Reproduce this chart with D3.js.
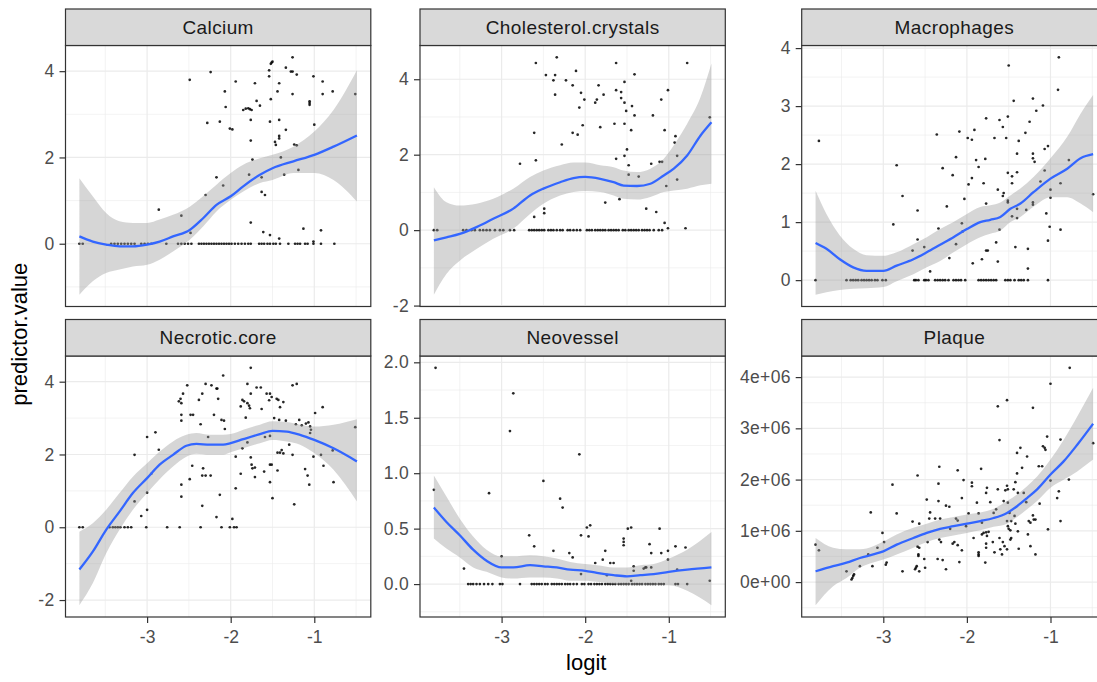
<!DOCTYPE html>
<html><head><meta charset="utf-8">
<script src="https://cdn.jsdelivr.net/npm/d3@7"></script>
<style>body{margin:0;background:#fff;overflow:hidden} text{font-family:"Liberation Sans",Arial,sans-serif}</style>
</head><body><svg id="c" width="1097" height="682"></svg>
<script>
// ---------------- DATA ----------------
const facetNames = ["Calcium","Cholesterol.crystals","Macrophages","Necrotic.core","Neovessel","Plaque"];
const xTicks = [-3,-2,-1];

const calciumPoints = [[-1.26,4.32],[-1.51,4.20],[-1.50,4.22],[-1.52,4.17],[-1.34,4.08],[-1.54,4.02],[-1.28,3.99],[-1.26,3.99],[-2.24,3.98],[-1.21,3.92],[-1.54,3.88],[-1.01,3.88],[-2.49,3.80],[-0.90,3.76],[-1.94,3.76],[-1.71,3.72],[-1.42,3.72],[-1.44,3.53],[-2.07,3.53],[-1.26,3.47],[-0.90,3.47],[-0.78,3.53],[-0.51,3.47],[-1.52,3.35],[-1.69,3.31],[-1.65,3.20],[-1.056,3.30],[-1.056,3.26],[-1.056,3.22],[-2.06,3.17],[-1.85,3.10],[-1.82,3.13],[-1.79,3.14],[-1.77,3.12],[-1.75,3.10],[-2.28,2.80],[-2.13,2.83],[-1.76,2.87],[-1.53,2.83],[-1.42,2.87],[-2.01,2.67],[-1.98,2.65],[-1.34,2.64],[-1.00,2.76],[-1.42,2.50],[-1.42,2.44],[-1.47,2.36],[-1.46,2.29],[-1.76,2.39],[-1.24,2.30],[-1.21,2.28],[-1.40,2.00],[-1.74,1.95],[-2.17,1.54],[-2.09,1.35],[-1.78,1.60],[-1.63,1.54],[-1.36,1.60],[-1.19,1.71],[-2.30,1.13],[-1.63,1.20],[-1.59,1.13],[-2.86,0.79],[-2.59,0.65],[-2.48,0.25],[-1.76,0.49],[-1.61,0.27],[-1.53,0.20],[-1.42,0.12],[-1.13,0.35],[-0.92,0.31],[-1.01,0.05]];
const calciumZeros = [-3.81,-3.77,-3.43,-3.39,-3.35,-3.31,-3.27,-3.23,-3.19,-3.15,-3.07,-3.03,-2.99,-2.95,-2.77,-2.63,-2.59,-2.55,-2.51,-2.47,-2.38,-2.35,-2.32,-2.29,-2.26,-2.23,-2.20,-2.17,-2.14,-2.11,-2.08,-2.05,-2.02,-1.99,-1.95,-1.91,-1.87,-1.83,-1.79,-1.76,-1.66,-1.63,-1.60,-1.56,-1.53,-1.49,-1.46,-1.41,-1.31,-1.23,-1.20,-1.17,-1.11,-1.08,-1.01,-0.92,-0.76];
const calciumSmoothX = [-3.81,-3.65,-3.49,-3.33,-3.17,-3.0,-2.85,-2.69,-2.49,-2.33,-2.17,-2.0,-1.85,-1.65,-1.5,-1.25,-1.0,-0.77,-0.49];
const calciumFit = [0.17,0.05,-0.02,-0.06,-0.06,-0.02,0.05,0.17,0.32,0.59,0.90,1.10,1.33,1.60,1.75,1.91,2.06,2.25,2.51];
const calciumHi  = [1.52,1.10,0.71,0.52,0.48,0.48,0.56,0.67,0.86,1.10,1.37,1.64,1.83,1.98,2.06,2.25,2.60,3.10,4.02];
const calciumLo  = [-1.18,-0.87,-0.68,-0.60,-0.53,-0.49,-0.37,-0.18,0.09,0.40,0.75,1.02,1.21,1.41,1.48,1.64,1.64,1.48,0.98];
const calciumTicks = [0,2,4];

const cholPoints = [[-2.59,4.43],[-2.34,4.58],[-1.63,4.43],[-0.78,4.43],[-2.47,4.11],[-2.36,4.11],[-2.38,3.97],[-2.23,3.97],[-2.11,4.22],[-1.41,4.13],[-2.15,3.84],[-1.84,3.84],[-1.53,3.93],[-1.63,3.71],[-1.57,3.66],[-1.01,3.71],[-2.36,3.59],[-2.05,3.64],[-1.78,3.59],[-2.01,3.46],[-1.86,3.46],[-1.88,3.38],[-1.57,3.50],[-1.53,3.38],[-1.09,3.46],[-2.07,3.25],[-1.51,3.16],[-1.44,3.29],[-1.41,3.04],[-1.19,3.04],[-2.61,2.58],[-2.15,2.58],[-2.09,2.53],[-2.03,2.78],[-1.82,2.73],[-1.65,2.82],[-1.53,2.82],[-1.45,2.65],[-1.05,2.65],[-0.92,2.49],[-0.93,2.32],[-2.28,2.27],[-1.50,2.14],[-1.53,1.97],[-1.63,1.89],[-0.90,1.97],[-2.78,1.76],[-2.59,1.85],[-1.48,1.72],[-1.21,1.76],[-1.11,1.81],[-1.08,1.81],[-1.48,1.47],[-1.36,1.42],[-0.90,1.34],[-1.03,1.17],[-0.51,2.99],[-1.76,0.73],[-1.59,0.82],[-1.27,0.57],[-1.15,0.48],[-2.49,0.57],[-2.49,0.45],[-2.61,0.35],[-1.05,0.19],[-1.01,0.05],[-0.80,0.05]];
const cholZeros = [-3.81,-3.77,-3.46,-3.42,-3.36,-3.32,-3.26,-3.22,-3.18,-3.14,-3.08,-3.02,-2.98,-2.90,-2.85,-2.67,-2.64,-2.61,-2.58,-2.55,-2.52,-2.49,-2.44,-2.41,-2.38,-2.34,-2.30,-2.27,-2.21,-2.18,-2.14,-2.10,-2.06,-1.98,-1.95,-1.92,-1.88,-1.85,-1.82,-1.79,-1.76,-1.72,-1.69,-1.66,-1.63,-1.60,-1.55,-1.52,-1.48,-1.45,-1.42,-1.39,-1.36,-1.32,-1.29,-1.26,-1.23,-1.18,-1.12,-1.08];
const cholSmoothX = [-3.81,-3.66,-3.5,-3.3,-3.1,-2.86,-2.66,-2.5,-2.3,-2.14,-2.0,-1.82,-1.66,-1.54,-1.38,-1.22,-1.06,-0.94,-0.78,-0.62,-0.49];
const cholFit = [-0.27,-0.19,-0.10,0.08,0.30,0.57,0.92,1.10,1.27,1.38,1.41,1.36,1.27,1.18,1.17,1.23,1.45,1.63,1.98,2.51,2.86];
const cholHi  = [1.14,0.74,0.65,0.70,0.83,1.10,1.41,1.58,1.72,1.79,1.79,1.72,1.67,1.58,1.54,1.63,1.89,2.25,2.82,3.53,4.42];
const cholLo  = [-1.71,-1.16,-0.81,-0.50,-0.23,0.04,0.43,0.70,0.92,1.01,1.04,1.01,0.92,0.83,0.81,0.88,1.01,1.05,1.10,1.19,1.23];
const cholTicks = [-2,0,2,4];

const macroPoints = [[-3.77,2.40],[-2.84,1.98],[-2.77,1.45],[-2.88,0.96],[-2.59,1.20],[-2.59,0.70],[-2.65,0.51],[-2.51,0.57],[-2.44,0.15],[-2.36,2.51],[-2.34,0.89],[-2.29,1.93],[-2.24,1.27],[-2.21,0.38],[-2.17,1.81],[-2.13,2.12],[-2.13,0.62],[-2.09,2.56],[-2.06,0.98],[-2.05,0.84],[-2.03,1.40],[-1.99,2.45],[-1.94,2.42],[-1.98,1.65],[-1.94,1.76],[-1.91,2.59],[-1.89,2.07],[-1.86,1.95],[-1.80,1.67],[-1.78,2.09],[-1.77,2.79],[-1.77,1.32],[-1.77,0.51],[-1.75,0.51],[-1.82,0.36],[-1.93,0.29],[-1.65,0.65],[-1.63,0.32],[-1.61,0.87],[-1.63,1.56],[-1.61,2.76],[-1.57,2.64],[-1.67,2.45],[-1.56,1.50],[-1.57,1.45],[-1.53,2.45],[-1.51,2.82],[-1.51,1.85],[-1.51,1.37],[-1.51,1.34],[-1.50,3.70],[-1.46,1.67],[-1.46,1.79],[-1.46,1.10],[-1.44,3.09],[-1.42,0.57],[-1.40,1.07],[-1.40,1.86],[-1.40,2.18],[-1.38,2.40],[-1.40,1.23],[-1.30,2.54],[-1.29,1.21],[-1.27,0.54],[-1.27,0.20],[-1.25,2.73],[-1.21,3.13],[-1.21,2.18],[-1.21,2.10],[-1.19,2.04],[-1.21,1.34],[-1.21,1.30],[-1.17,2.92],[-1.12,1.70],[-1.09,3.01],[-1.07,1.89],[-1.07,2.26],[-1.03,2.31],[-1.05,1.15],[-1.01,0.92],[-1.03,0.68],[-1.00,1.56],[-1.00,1.42],[-0.91,3.28],[-0.90,3.84],[-0.88,1.67],[-0.88,0.87],[-0.78,2.07],[-0.49,1.48]];
const macroZeros = [-3.81,-3.44,-3.39,-3.36,-3.33,-3.30,-3.26,-3.23,-3.20,-3.17,-3.14,-3.10,-3.07,-3.01,-2.97,-2.63,-2.61,-2.58,-2.51,-2.49,-2.46,-2.38,-2.35,-2.32,-2.29,-2.26,-2.22,-2.16,-2.13,-2.10,-2.07,-2.02,-1.86,-1.83,-1.80,-1.77,-1.74,-1.71,-1.68,-1.65,-1.54,-1.51,-1.48,-1.43,-1.38,-1.35,-1.32,-1.27,-1.03];
const macroSmoothX = [-3.81,-3.68,-3.52,-3.36,-3.2,-3.0,-2.84,-2.64,-2.48,-2.32,-2.16,-2.0,-1.84,-1.72,-1.6,-1.48,-1.36,-1.2,-1.0,-0.8,-0.64,-0.49];
const macroFit = [0.64,0.54,0.36,0.22,0.16,0.16,0.25,0.36,0.48,0.61,0.74,0.88,1.00,1.04,1.09,1.23,1.32,1.52,1.75,1.92,2.10,2.17];
const macroHi  = [1.54,1.14,0.77,0.54,0.43,0.42,0.48,0.62,0.74,0.88,1.00,1.14,1.26,1.29,1.34,1.46,1.58,1.78,2.10,2.47,2.87,3.19];
const macroLo  = [-0.25,-0.21,-0.17,-0.15,-0.14,-0.12,-0.02,0.10,0.22,0.33,0.48,0.62,0.74,0.80,0.85,1.00,1.09,1.27,1.43,1.43,1.32,1.17];
const macroTicks = [0,1,2,3,4];

const necroticPoints = [[-1.76,4.38],[-2.09,4.17],[-2.52,3.90],[-2.30,3.94],[-2.23,3.90],[-2.17,3.81],[-2.16,3.81],[-1.80,3.94],[-1.69,3.84],[-1.64,3.84],[-1.26,3.90],[-1.21,3.94],[-2.57,3.67],[-2.60,3.53],[-2.62,3.46],[-2.59,3.41],[-2.34,3.67],[-2.38,3.50],[-2.15,3.53],[-1.86,3.50],[-1.84,3.46],[-1.80,3.41],[-1.78,3.34],[-1.77,3.27],[-1.88,3.32],[-1.76,3.67],[-1.57,3.67],[-1.53,3.67],[-1.51,3.58],[-1.54,3.49],[-1.45,3.53],[-1.43,3.50],[-1.37,3.44],[-1.41,3.30],[-1.63,3.25],[-0.99,3.14],[-0.90,3.30],[-2.59,3.09],[-2.48,3.09],[-2.45,3.09],[-2.20,3.09],[-1.82,3.01],[-1.48,3.00],[-1.42,2.95],[-1.34,2.93],[-1.18,2.95],[-2.59,2.93],[-2.36,2.83],[-2.11,2.95],[-2.08,2.93],[-2.07,2.70],[-1.22,2.83],[-1.15,2.80],[-1.10,2.85],[-1.07,2.88],[-1.05,2.77],[-1.04,2.68],[-1.05,2.59],[-3.00,2.48],[-2.90,2.61],[-2.86,2.13],[-3.15,1.99],[-2.27,2.48],[-1.86,2.17],[-1.80,2.33],[-1.59,2.48],[-1.53,2.51],[-1.41,2.05],[-1.44,2.05],[-1.39,2.12],[-1.37,2.03],[-1.30,2.27],[-1.26,1.99],[-1.01,1.94],[-0.92,1.99],[-0.78,2.11],[-0.51,2.75],[-1.94,1.94],[-1.76,1.92],[-2.46,1.69],[-2.33,1.62],[-1.75,1.72],[-1.74,1.62],[-1.71,1.64],[-1.53,1.72],[-1.51,1.72],[-1.44,1.56],[-1.60,1.53],[-1.11,1.60],[-0.89,1.69],[-2.49,1.32],[-2.34,1.42],[-2.30,1.42],[-2.24,1.42],[-1.88,1.47],[-1.71,1.38],[-1.53,1.24],[-1.08,1.42],[-1.06,1.17],[-0.77,1.24],[-2.59,1.17],[-2.59,0.84],[-1.94,1.07],[-2.13,0.89],[-1.50,0.80],[-1.24,0.63],[-3.00,0.95],[-3.00,0.48],[-3.15,0.71],[-3.07,0.31],[-2.34,0.59],[-2.17,0.28],[-1.98,0.23],[-2.95,1.47]];
const necroticZeros = [-3.81,-3.77,-3.45,-3.41,-3.38,-3.35,-3.32,-3.27,-3.23,-3.19,-3.01,-2.76,-2.61,-2.36,-2.11,-2.01,-1.96,-1.93];
const necroticSmoothX = [-3.81,-3.65,-3.49,-3.33,-3.17,-3.0,-2.85,-2.69,-2.53,-2.41,-2.25,-2.09,-2.0,-1.85,-1.65,-1.5,-1.33,-1.17,-1.0,-0.77,-0.49];
const necroticFit = [-1.16,-0.67,-0.07,0.43,0.94,1.35,1.72,1.99,2.24,2.29,2.27,2.27,2.31,2.42,2.56,2.65,2.63,2.54,2.40,2.17,1.81];
const necroticHi  = [-0.12,0.11,0.48,0.94,1.39,1.76,2.08,2.36,2.54,2.59,2.54,2.54,2.56,2.68,2.82,2.91,2.89,2.82,2.77,2.82,2.97];
const necroticLo  = [-2.14,-1.54,-0.72,-0.07,0.48,0.94,1.32,1.67,1.94,2.02,1.99,1.99,2.06,2.17,2.31,2.40,2.36,2.27,2.04,1.58,0.71];
const necroticTicks = [-2,0,2,4];

const neoPoints = [[-3.79,1.95],[-3.81,0.85],[-3.15,0.82],[-2.86,1.72],[-2.90,1.38],[-2.50,0.93],[-2.30,0.77],[-2.27,0.69],[-2.07,1.17],[-2.67,0.44],[-2.61,0.34],[-2.38,0.30],[-2.19,0.28],[-2.15,0.24],[-2.05,0.44],[-1.98,0.51],[-1.94,0.53],[-1.96,0.43],[-1.88,0.19],[-1.79,0.22],[-1.76,0.30],[-1.70,0.19],[-1.66,0.19],[-1.74,0.08],[-1.49,0.50],[-1.45,0.51],[-1.54,0.41],[-1.54,0.38],[-1.54,0.35],[-1.42,0.16],[-1.42,0.12],[-1.30,0.14],[-1.28,0.15],[-1.27,0.15],[-1.23,0.36],[-1.21,0.28],[-1.21,0.15],[-1.11,0.50],[-1.09,0.28],[-1.01,0.30],[-1.01,0.22],[-0.92,0.34],[-0.90,0.13],[-0.80,0.33],[-0.51,0.03],[-3.45,0.14],[-3.00,0.25],[-2.05,0.09],[-1.45,0.03]];
const neoZeros = [-3.40,-3.37,-3.34,-3.30,-3.26,-3.21,-3.16,-3.11,-3.02,-2.99,-2.78,-2.64,-2.61,-2.58,-2.55,-2.52,-2.48,-2.45,-2.40,-2.37,-2.34,-2.31,-2.28,-2.24,-2.21,-2.18,-2.14,-2.10,-2.04,-2.01,-1.96,-1.93,-1.89,-1.86,-1.83,-1.80,-1.76,-1.73,-1.70,-1.67,-1.64,-1.60,-1.57,-1.54,-1.51,-1.48,-1.44,-1.41,-1.38,-1.35,-1.32,-1.28,-1.25,-1.22,-1.19,-1.16,-1.12,-1.09,-1.06,-0.92,-0.89,-0.78];
const neoSmoothX = [-3.81,-3.66,-3.5,-3.34,-3.18,-3.0,-2.86,-2.66,-2.5,-2.34,-2.18,-2.0,-1.86,-1.66,-1.5,-1.34,-1.18,-1.0,-0.78,-0.49];
const neoFit = [0.69,0.56,0.44,0.31,0.21,0.15,0.15,0.17,0.16,0.15,0.13,0.12,0.10,0.08,0.07,0.08,0.09,0.11,0.13,0.15];
const neoHi  = [0.98,0.79,0.59,0.43,0.31,0.25,0.25,0.26,0.25,0.23,0.20,0.18,0.17,0.15,0.15,0.17,0.18,0.23,0.31,0.47];
const neoLo  = [0.41,0.32,0.24,0.15,0.11,0.06,0.05,0.06,0.06,0.05,0.03,0.03,0.02,0.00,-0.01,-0.01,-0.01,-0.01,-0.06,-0.19];
const neoTicks = [0,0.5,1,1.5,2];

// Plaque values in millions (×1e6)
const plaquePointsM = [[-3.81,0.73],[-3.77,0.62],[-3.44,0.21],[-3.38,0.05],[-3.37,0.08],[-3.36,0.12],[-3.35,0.15],[-3.28,0.31],[-3.18,0.54],[-3.15,1.36],[-3.13,0.31],[-3.07,0.67],[-3.01,0.96],[-2.99,0.78],[-2.97,0.34],[-2.96,0.38],[-2.89,1.90],[-2.84,1.34],[-2.77,0.21],[-2.65,1.18],[-2.62,0.25],[-2.61,0.28],[-2.60,0.31],[-2.59,2.08],[-2.59,0.69],[-2.58,0.54],[-2.58,0.51],[-2.57,0.21],[-2.57,1.14],[-2.57,0.67],[-2.51,0.45],[-2.50,0.28],[-2.48,1.61],[-2.47,0.78],[-2.44,1.36],[-2.45,1.24],[-2.38,1.24],[-2.35,0.45],[-2.34,1.92],[-2.34,1.58],[-2.33,2.25],[-2.33,0.83],[-2.31,0.78],[-2.32,1.24],[-2.29,0.43],[-2.25,0.25],[-2.25,1.49],[-2.21,1.47],[-2.20,1.04],[-2.17,0.75],[-2.15,0.78],[-2.13,1.24],[-2.11,1.20],[-2.11,2.18],[-2.11,0.72],[-2.09,0.39],[-2.06,1.64],[-2.06,0.62],[-2.04,1.99],[-2.01,1.09],[-1.98,1.34],[-1.94,1.94],[-1.94,1.87],[-1.92,0.86],[-1.88,1.55],[-1.86,1.34],[-1.86,0.58],[-1.86,0.54],[-1.86,0.51],[-1.83,2.21],[-1.82,0.93],[-1.80,0.96],[-1.77,0.97],[-1.74,0.98],[-1.76,0.90],[-1.82,1.16],[-1.78,0.38],[-1.77,1.74],[-1.76,1.84],[-1.77,0.67],[-1.77,0.75],[-1.72,1.56],[-1.69,0.78],[-1.68,1.35],[-1.67,0.58],[-1.65,1.42],[-1.63,1.81],[-1.63,3.43],[-1.61,2.77],[-1.61,0.86],[-1.60,0.64],[-1.58,0.54],[-1.57,0.78],[-1.56,1.58],[-1.55,0.70],[-1.52,0.64],[-1.54,1.79],[-1.52,3.55],[-1.52,1.19],[-1.51,1.09],[-1.50,1.04],[-1.48,1.01],[-1.52,1.88],[-1.51,1.81],[-1.51,1.55],[-1.49,1.35],[-1.48,0.83],[-1.47,0.86],[-1.47,1.19],[-1.44,1.81],[-1.43,1.29],[-1.42,1.14],[-1.42,1.95],[-1.40,2.12],[-1.40,2.52],[-1.39,1.74],[-1.39,0.99],[-1.38,0.65],[-1.36,2.62],[-1.34,2.23],[-1.32,1.74],[-1.29,1.56],[-1.28,2.45],[-1.27,0.93],[-1.26,1.19],[-1.24,1.16],[-1.24,0.70],[-1.21,3.40],[-1.21,1.30],[-1.20,1.22],[-1.18,1.22],[-1.18,0.54],[-1.14,2.26],[-1.13,1.53],[-1.10,2.26],[-1.09,2.65],[-1.07,2.62],[-1.06,2.58],[-1.04,2.84],[-1.03,1.03],[-1.00,3.87],[-1.00,1.98],[-0.92,1.64],[-0.90,1.77],[-0.88,2.78],[-0.88,1.19],[-0.78,2.00],[-0.77,4.18],[-0.49,2.71]];
const plaqueZeros = [];
const plaqueSmoothX = [-3.81,-3.6,-3.44,-3.28,-3.12,-3.0,-2.84,-2.64,-2.48,-2.32,-2.16,-2.0,-1.84,-1.68,-1.52,-1.4,-1.28,-1.16,-1.0,-0.84,-0.68,-0.49];
const plaqueFitM = [0.21,0.31,0.38,0.47,0.54,0.60,0.73,0.86,0.96,1.04,1.09,1.14,1.19,1.25,1.35,1.48,1.64,1.81,2.10,2.36,2.68,3.09];
const plaqueHiM  = [0.86,0.67,0.64,0.64,0.70,0.79,0.93,1.06,1.14,1.22,1.27,1.32,1.36,1.43,1.58,1.71,1.87,2.06,2.39,2.78,3.23,3.79];
const plaqueLoM  = [-0.45,-0.08,0.08,0.28,0.38,0.44,0.54,0.67,0.78,0.86,0.91,0.96,1.01,1.08,1.14,1.27,1.42,1.58,1.84,2.00,2.16,2.39];
const plaqueTicks = [0,1e6,2e6,3e6,4e6];

// ---------------- LAYOUT ----------------
const colLeft = [65.5, 420, 801.7];
const panelW = 305.3;
const stripTop = [9, 319.5];
const stripH = 36.5;
const panelH = 261;

const intFmt = v => String(v);
const dec1Fmt = v => v.toFixed(1);
const sciFmt = v => {
  if (v === 0) return "0e+00";
  const e = Math.floor(Math.log10(Math.abs(v)) + 1e-9);
  const m = Math.round(v / Math.pow(10, e) * 100) / 100;
  return m + "e+" + String(e).padStart(2, "0");
};
const M = 1e6;
const panels = [
  {pts: calciumPoints, zeros: calciumZeros, sx: calciumSmoothX, fit: calciumFit, hi: calciumHi, lo: calciumLo, ticks: calciumTicks, fmt: intFmt},
  {pts: cholPoints, zeros: cholZeros, sx: cholSmoothX, fit: cholFit, hi: cholHi, lo: cholLo, ticks: cholTicks, fmt: intFmt},
  {pts: macroPoints, zeros: macroZeros, sx: macroSmoothX, fit: macroFit, hi: macroHi, lo: macroLo, ticks: macroTicks, fmt: intFmt},
  {pts: necroticPoints, zeros: necroticZeros, sx: necroticSmoothX, fit: necroticFit, hi: necroticHi, lo: necroticLo, ticks: necroticTicks, fmt: intFmt},
  {pts: neoPoints, zeros: neoZeros, sx: neoSmoothX, fit: neoFit, hi: neoHi, lo: neoLo, ticks: neoTicks, fmt: dec1Fmt},
  {pts: plaquePointsM.map(d => [d[0], d[1] * M]), zeros: plaqueZeros, sx: plaqueSmoothX,
   fit: plaqueFitM.map(v => v * M), hi: plaqueHiM.map(v => v * M), lo: plaqueLoM.map(v => v * M), ticks: plaqueTicks, fmt: sciFmt}
];

const svg = d3.select("#c");
const GRID = "#EBEBEB", BORDER = "#333333";
const TICKFONT = 17.5, STRIPFONT = 19, TITLEFONT = 22;
const FONT = '"Liberation Sans", Arial, sans-serif';

function expand(ext) { const r = ext[1] - ext[0]; return [ext[0] - 0.05 * r, ext[1] + 0.05 * r]; }
function minorsOf(ticks, dom) {
  const step = ticks[1] - ticks[0];
  const out = [];
  for (let i = -1; i < ticks.length; i++) {
    const v = ticks[0] + (i + 0.5) * step;
    if (v >= dom[0] && v <= dom[1]) out.push(v);
  }
  return out;
}

const allX = [];
panels.forEach(p => { allX.push(...p.sx); });
const xDom = expand(d3.extent(allX));
const xMinor = minorsOf(xTicks, xDom);

panels.forEach((p, i) => {
  const col = i % 3, row = Math.floor(i / 3);
  const left = colLeft[col], sTop = stripTop[row], top = sTop + stripH;
  const x = d3.scaleLinear().domain(xDom).range([left, left + panelW]);
  const yVals = p.pts.map(d => d[1]).concat(p.hi, p.lo, p.zeros.length ? [0] : []);
  const yDom = expand(d3.extent(yVals));
  const y = d3.scaleLinear().domain(yDom).range([top + panelH, top]);
  const yMinor = minorsOf(p.ticks, yDom);
  const yMajor = p.ticks.filter(t => t >= yDom[0] && t <= yDom[1]);

  const g = svg.append("g");
  const clipId = "clip" + i;
  g.append("clipPath").attr("id", clipId).append("rect")
    .attr("x", left).attr("y", top).attr("width", panelW).attr("height", panelH);
  g.append("rect").attr("x", left).attr("y", top).attr("width", panelW).attr("height", panelH).attr("fill", "#fff");

  const grid = g.append("g").attr("clip-path", `url(#${clipId})`);
  grid.selectAll(".mx").data(xMinor).join("line")
    .attr("x1", d => x(d)).attr("x2", d => x(d)).attr("y1", top).attr("y2", top + panelH)
    .attr("stroke", GRID).attr("stroke-width", 0.6);
  grid.selectAll(".my").data(yMinor).join("line")
    .attr("y1", d => y(d)).attr("y2", d => y(d)).attr("x1", left).attr("x2", left + panelW)
    .attr("stroke", GRID).attr("stroke-width", 0.6);
  grid.selectAll(".Mx").data(xTicks).join("line")
    .attr("x1", d => x(d)).attr("x2", d => x(d)).attr("y1", top).attr("y2", top + panelH)
    .attr("stroke", GRID).attr("stroke-width", 1.2);
  grid.selectAll(".My").data(yMajor).join("line")
    .attr("y1", d => y(d)).attr("y2", d => y(d)).attr("x1", left).attr("x2", left + panelW)
    .attr("stroke", GRID).attr("stroke-width", 1.2);

  const plot = g.append("g").attr("clip-path", `url(#${clipId})`);
  const allPts = p.pts.concat(p.zeros.map(v => [v, 0]));
  plot.selectAll("circle").data(allPts).join("circle")
    .attr("cx", d => x(d[0])).attr("cy", d => y(d[1])).attr("r", 1.35)
    .attr("fill", "#000").attr("fill-opacity", 0.85);

  const sm = p.sx.map((v, k) => ({x: v, fit: p.fit[k], lo: p.lo[k], hi: p.hi[k]}));
  plot.append("path").datum(sm)
    .attr("d", d3.area().curve(d3.curveMonotoneX).x(d => x(d.x)).y0(d => y(d.lo)).y1(d => y(d.hi)))
    .attr("fill", "#999999").attr("fill-opacity", 0.4);
  plot.append("path").datum(sm)
    .attr("d", d3.line().curve(d3.curveMonotoneX).x(d => x(d.x)).y(d => y(d.fit)))
    .attr("fill", "none").attr("stroke", "#3366FF").attr("stroke-width", 2.3);

  g.append("rect").attr("x", left).attr("y", top).attr("width", panelW).attr("height", panelH)
    .attr("fill", "none").attr("stroke", BORDER).attr("stroke-width", 1.2);

  g.append("rect").attr("x", left).attr("y", sTop).attr("width", panelW).attr("height", stripH)
    .attr("fill", "#D9D9D9").attr("stroke", BORDER).attr("stroke-width", 1.2);
  g.append("text").attr("x", left + panelW / 2).attr("y", sTop + stripH / 2 + 6.5)
    .attr("text-anchor", "middle").attr("font-size", STRIPFONT).attr("letter-spacing", 0.4).attr("fill", "#1A1A1A")
    .text(facetNames[i]);

  const ya = g.append("g").attr("transform", `translate(${left},0)`)
    .call(d3.axisLeft(y).tickValues(yMajor).tickFormat(p.fmt).tickSize(6).tickPadding(5));
  ya.select(".domain").remove();
  ya.selectAll(".tick line").attr("stroke", BORDER).attr("stroke-width", 1.2);
  ya.selectAll(".tick text").attr("fill", "#4D4D4D").attr("font-size", TICKFONT).attr("letter-spacing", 0.3).attr("font-family", FONT);

  if (row === 1) {
    const xa = g.append("g").attr("transform", `translate(0,${top + panelH})`)
      .call(d3.axisBottom(x).tickValues(xTicks).tickFormat(intFmt).tickSize(6).tickPadding(8));
    xa.select(".domain").remove();
    xa.selectAll(".tick line").attr("stroke", BORDER).attr("stroke-width", 1.2);
    xa.selectAll(".tick text").attr("fill", "#4D4D4D").attr("font-size", TICKFONT).attr("font-family", FONT);
  }
});

svg.append("text").attr("x", (colLeft[0] + colLeft[2] + panelW) / 2).attr("y", 670)
  .attr("text-anchor", "middle").attr("font-size", TITLEFONT).attr("fill", "#000").text("logit");
svg.append("text").attr("transform", `translate(27,${(stripTop[0] + stripH + stripTop[1] + stripH + panelH) / 2 + 3}) rotate(-90)`)
  .attr("text-anchor", "middle").attr("font-size", TITLEFONT).attr("fill", "#000").text("predictor.value");
</script>
</body></html>
